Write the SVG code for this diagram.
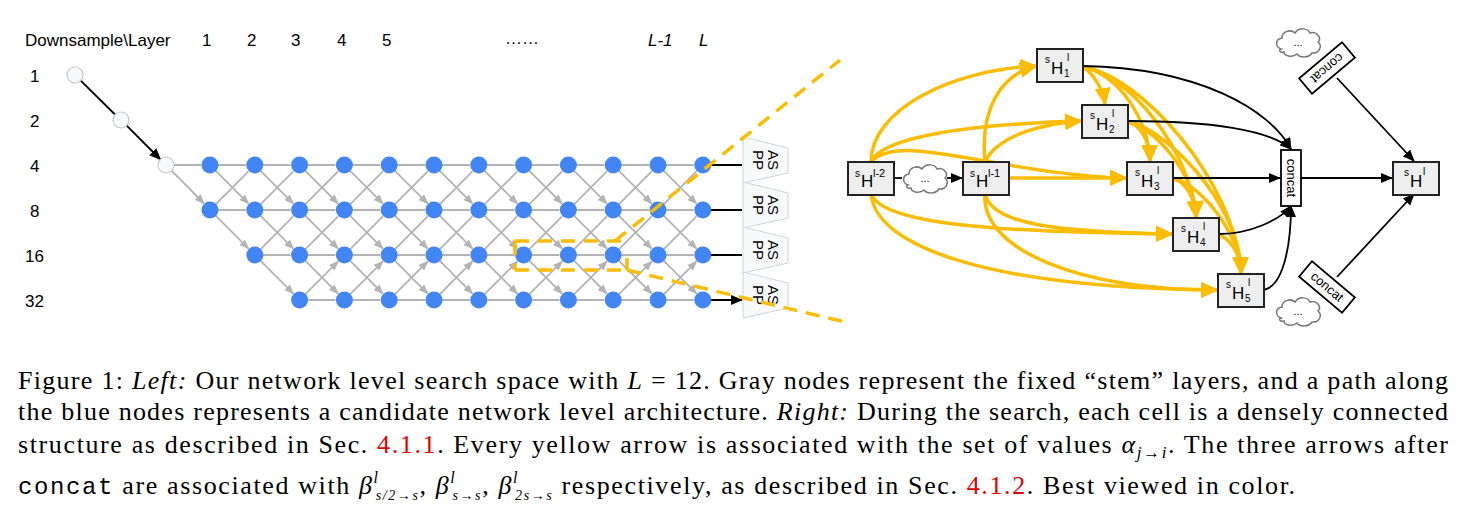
<svg xmlns="http://www.w3.org/2000/svg" xmlns:xlink="http://www.w3.org/1999/xlink" width="1462" height="524" viewBox="0 0 1462 524">
<style>
.lbl{font-family:"Liberation Sans",Arial,sans-serif;font-size:17px;fill:#000}
.ge{stroke:#b3b3b3;stroke-width:1.8;fill:none;marker-end:url(#ga)}
.bn{fill:#4285f4}
.sn{fill:#f8f9fa;stroke:#c8c8c8;stroke-width:1.2}
.bk{stroke:#000;stroke-width:1.8;fill:none;marker-end:url(#ba)}
.ye{stroke:#fbbc04;stroke-width:3.5;fill:none;marker-end:url(#ya)}
.box{fill:#eee;stroke:#222;stroke-width:2}
.cbox{fill:#fff;stroke:#000;stroke-width:1.8}
.t{font-family:"Liberation Sans",Arial,sans-serif;fill:#000}
.cl{fill:#fff;stroke:#777;stroke-width:1.5}
.dash{stroke:#fbbc04;stroke-width:3.5;fill:none;stroke-dasharray:14 9}
.cap{font-family:"Liberation Serif","Times New Roman",serif;font-size:26px;fill:#000}
.asp{fill:#f8f9fa;stroke:#d0d4da;stroke-width:1}
</style>
<defs>
<marker id="ga" markerUnits="userSpaceOnUse" markerWidth="10" markerHeight="8" refX="9" refY="4" orient="auto"><path d="M0,0 L10,4 L0,8 z" fill="#b3b3b3"/></marker>
<marker id="ba" markerUnits="userSpaceOnUse" markerWidth="12" markerHeight="10" refX="11" refY="5" orient="auto"><path d="M0,0 L12,5 L0,10 z" fill="#000"/></marker>
<marker id="ya" markerUnits="userSpaceOnUse" markerWidth="18" markerHeight="16" refX="16" refY="8" orient="auto"><path d="M0,0 L18,8 L0,16 z" fill="#fbbc04"/></marker>
<g id="r0"><path class="ge" d="M8 0L35.8 0M5.6 5.7L38.5 38.6"/></g>
<g id="r1"><path class="ge" d="M8 45L35.8 45M5.6 39.3L38.5 6.4M5.6 50.7L38.5 83.6"/></g>
<g id="r2"><path class="ge" d="M8 90L35.8 90M5.6 84.3L38.5 51.4M5.6 95.7L38.5 128.6"/></g>
<g id="r3"><path class="ge" d="M8 135L35.8 135M5.6 129.3L38.5 96.4"/></g>
<g id="colA"><use xlink:href="#r0"/><use xlink:href="#r1"/><use xlink:href="#r2"/><use xlink:href="#r3"/></g>
<g id="nA"><circle class="bn" cx="0" cy="0" r="8.5"/><circle class="bn" cx="0" cy="45" r="8.5"/><circle class="bn" cx="0" cy="90" r="8.5"/><circle class="bn" cx="0" cy="135" r="8.5"/></g>
<path id="cloud" class="cl" d="M6 22 C0 20 0 12 7 11 C7 4 16 2 20 6 C24 0 33 1 35 6 C42 4 47 11 43 15 C48 19 44 27 37 26 C34 31 25 31 22 27 C17 31 9 29 9 25 C5 26 3 23 6 22 z"/>
<polygon id="asp" class="asp" points="0,-28 45,-17 45,8 0,18"/>
<rect id="hb" class="box" x="0" y="0" width="46" height="33"/>
</defs>

<g id="left-labels">
<text class="lbl" x="25" y="46">Downsample\Layer</text>
<text class="lbl" x="202" y="46">1</text><text class="lbl" x="247" y="46">2</text><text class="lbl" x="291" y="46">3</text><text class="lbl" x="337" y="46">4</text><text class="lbl" x="382" y="46">5</text>
<text class="lbl" x="505" y="44">……</text>
<text class="lbl" x="648" y="46" font-style="italic">L-1</text><text class="lbl" x="699" y="46" font-style="italic">L</text>
<text class="lbl" x="30" y="82">1</text><text class="lbl" x="30" y="127">2</text><text class="lbl" x="30" y="172">4</text><text class="lbl" x="30" y="217">8</text><text class="lbl" x="25" y="262">16</text><text class="lbl" x="25" y="307">32</text>
</g>

<g id="grid-connectors">
<path class="bk" d="M80.7 80.6L115 114.5M126.7 125.6L160.5 159.5"/>
<path class="ge" d="M174 165L201 165M171.6 170.7L204 203.5"/>
<use xlink:href="#r0" x="210" y="165"/><use xlink:href="#r1" x="210" y="165"/>
<use xlink:href="#r0" x="254.8" y="165"/><use xlink:href="#r1" x="254.8" y="165"/><use xlink:href="#r2" x="254.8" y="165"/>
<use xlink:href="#colA" x="299.6" y="165"/><use xlink:href="#colA" x="344.4" y="165"/><use xlink:href="#colA" x="389.2" y="165"/>
<use xlink:href="#colA" x="434" y="165"/><use xlink:href="#colA" x="478.8" y="165"/><use xlink:href="#colA" x="523.6" y="165"/>
<use xlink:href="#colA" x="568.4" y="165"/><use xlink:href="#colA" x="613.2" y="165"/><use xlink:href="#colA" x="658" y="165"/>
<path class="bk" d="M711 165L742 165M711 210L742 210M711 255L742 255M711 300L742 300"/>
</g>

<g id="grid-nodes">
<circle class="sn" cx="75" cy="75" r="8"/><circle class="sn" cx="121" cy="120" r="8"/><circle class="sn" cx="166" cy="165" r="8"/>
<circle class="bn" cx="210" cy="165" r="8.5"/><circle class="bn" cx="210" cy="210" r="8.5"/>
<circle class="bn" cx="254.8" cy="165" r="8.5"/><circle class="bn" cx="254.8" cy="210" r="8.5"/><circle class="bn" cx="254.8" cy="255" r="8.5"/>
<use xlink:href="#nA" x="299.6" y="165"/><use xlink:href="#nA" x="344.4" y="165"/><use xlink:href="#nA" x="389.2" y="165"/>
<use xlink:href="#nA" x="434" y="165"/><use xlink:href="#nA" x="478.8" y="165"/><use xlink:href="#nA" x="523.6" y="165"/>
<use xlink:href="#nA" x="568.4" y="165"/><use xlink:href="#nA" x="613.2" y="165"/><use xlink:href="#nA" x="658" y="165"/>
<use xlink:href="#nA" x="702.8" y="165"/>
</g>

<g id="aspp">
<g id="aspp1"><use xlink:href="#asp" x="743" y="165"/><text class="t" font-size="15" transform="translate(765,160) rotate(90)" text-anchor="middle"><tspan x="0" y="-3">AS</tspan><tspan x="0" y="12">PP</tspan></text></g>
<g id="aspp2"><use xlink:href="#asp" x="743" y="210"/><text class="t" font-size="15" transform="translate(765,205) rotate(90)" text-anchor="middle"><tspan x="0" y="-3">AS</tspan><tspan x="0" y="12">PP</tspan></text></g>
<g id="aspp3"><use xlink:href="#asp" x="743" y="255"/><text class="t" font-size="15" transform="translate(765,250) rotate(90)" text-anchor="middle"><tspan x="0" y="-3">AS</tspan><tspan x="0" y="12">PP</tspan></text></g>
<g id="aspp4"><use xlink:href="#asp" x="743" y="300"/><text class="t" font-size="15" transform="translate(765,295) rotate(90)" text-anchor="middle"><tspan x="0" y="-3">AS</tspan><tspan x="0" y="12">PP</tspan></text></g>
</g>

<g id="zoom-lines">
<path class="dash" d="M515 241L627 241M515 270L627 270M515 241L515 270M627 258L627 270"/>
<path class="dash" d="M615 241L840 60M627 270L845 322"/>
</g>

<g id="cell-connectors">
<path class="ye" d="M871 162C871 110 950 70 1036 66"/>
<path class="ye" d="M871 162C880 140 950 125 1081 121"/>
<path class="ye" d="M871 162C900 130 1000 175 1126 178"/>
<path class="ye" d="M871 193C880 225 1000 232 1172 234"/>
<path class="ye" d="M871 193C875 250 1000 288 1217 290"/>
<path class="ye" d="M985 162C980 110 1000 75 1036 66"/>
<path class="ye" d="M985 162C995 140 1030 125 1081 121"/>
<path class="ye" d="M1008 178L1126 178"/>
<path class="ye" d="M985 193C990 225 1060 232 1172 234"/>
<path class="ye" d="M985 193C980 250 1080 290 1217 290"/>
<path class="ye" d="M1083 67C1095 75 1103 90 1105 104"/>
<path class="ye" d="M1083 67C1120 75 1148 120 1150 161"/>
<path class="ye" d="M1083 67C1130 75 1190 150 1196 217"/>
<path class="ye" d="M1083 67C1140 75 1235 180 1241 273"/>
<path class="ye" d="M1128 122C1140 125 1150 140 1150 161"/>
<path class="ye" d="M1128 122C1150 125 1195 170 1196 217"/>
<path class="ye" d="M1128 122C1160 125 1240 200 1241 273"/>
<path class="ye" d="M1173 179C1185 180 1196 200 1196 217"/>
<path class="ye" d="M1173 179C1195 180 1240 230 1241 273"/>
<path class="ye" d="M1219 235C1230 238 1241 255 1241 273"/>
<path class="bk" d="M1083 66C1200 68 1270 110 1291 149"/>
<path class="bk" d="M1128 121C1210 121 1270 130 1291 149"/>
<path class="bk" d="M1173 178L1280 178"/>
<path class="bk" d="M1219 234C1250 234 1280 220 1291 206"/>
<path class="bk" d="M1264 290C1285 285 1291 240 1291 206"/>
<path class="bk" d="M1301 178L1392 178"/>
<path class="bk" d="M1337 78L1414 161"/>
<path class="bk" d="M1337 277L1414 194"/>
<path stroke="#000" stroke-width="1.8" d="M894 178L902 178"/>
<path class="bk" d="M947 178L962 178"/>
</g>

<g id="n-hl2"><use xlink:href="#hb" x="848" y="162"/><text class="t" x="855" y="177" font-size="10">s</text><text class="t" x="861" y="187" font-size="17">H</text><text class="t" x="873" y="177" font-size="11">l-2</text></g>
<g id="cloud1"><use xlink:href="#cloud" x="902" y="163"/><text class="t" x="925" y="182" font-size="11" text-anchor="middle">...</text></g>
<g id="n-hl1"><use xlink:href="#hb" x="963" y="162"/><text class="t" x="970" y="177" font-size="10">s</text><text class="t" x="976" y="187" font-size="17">H</text><text class="t" x="988" y="177" font-size="11">l-1</text></g>
<g id="n-h1"><use xlink:href="#hb" x="1037" y="49"/><text class="t" x="1045" y="63" font-size="10">s</text><text class="t" x="1051" y="74" font-size="17">H</text><text class="t" x="1067" y="61" font-size="10" fill="#1a4f9e">l</text><text class="t" x="1064" y="77" font-size="10">1</text></g>
<g id="n-h2"><use xlink:href="#hb" x="1082" y="105"/><text class="t" x="1090" y="119" font-size="10">s</text><text class="t" x="1096" y="130" font-size="17">H</text><text class="t" x="1112" y="117" font-size="10" fill="#1a4f9e">l</text><text class="t" x="1109" y="133" font-size="10">2</text></g>
<g id="n-h3"><use xlink:href="#hb" x="1127" y="162"/><text class="t" x="1135" y="176" font-size="10">s</text><text class="t" x="1141" y="187" font-size="17">H</text><text class="t" x="1157" y="174" font-size="10" fill="#1a4f9e">l</text><text class="t" x="1154" y="190" font-size="10">3</text></g>
<g id="n-h4"><use xlink:href="#hb" x="1173" y="218"/><text class="t" x="1181" y="232" font-size="10">s</text><text class="t" x="1187" y="243" font-size="17">H</text><text class="t" x="1203" y="230" font-size="10" fill="#1a4f9e">l</text><text class="t" x="1200" y="246" font-size="10">4</text></g>
<g id="n-h5"><use xlink:href="#hb" x="1218" y="274"/><text class="t" x="1226" y="288" font-size="10">s</text><text class="t" x="1232" y="299" font-size="17">H</text><text class="t" x="1248" y="286" font-size="10" fill="#1a4f9e">l</text><text class="t" x="1245" y="302" font-size="10">5</text></g>
<g id="n-concat"><rect class="cbox" x="1281" y="150" width="20" height="56"/><text class="t" font-size="13" text-anchor="middle" transform="translate(1291,178) rotate(90)" y="4">concat</text></g>
<g id="n-hl"><use xlink:href="#hb" x="1393" y="162"/><text class="t" x="1404" y="176" font-size="10">s</text><text class="t" x="1410" y="187" font-size="17">H</text><text class="t" x="1423" y="175" font-size="10" fill="#1a4f9e">l</text></g>
<g id="n-concat-top"><g transform="translate(1327,68) rotate(140)"><rect class="cbox" x="-28" y="-10" width="56" height="20"/><text class="t" font-size="13" text-anchor="middle" y="4">concat</text></g></g>
<g id="n-concat-bot"><g transform="translate(1327,287) rotate(40)"><rect class="cbox" x="-28" y="-10" width="56" height="20"/><text class="t" font-size="13" text-anchor="middle" y="4">concat</text></g></g>
<g id="cloud2"><use xlink:href="#cloud" x="1275" y="27"/><text class="t" x="1298" y="46" font-size="11" text-anchor="middle">...</text></g>
<g id="cloud3"><use xlink:href="#cloud" x="1275" y="296"/><text class="t" x="1298" y="315" font-size="11" text-anchor="middle">...</text></g>

<g id="caption">
<text class="cap" x="18" y="389" textLength="1430" lengthAdjust="spacing">Figure 1: <tspan font-style="italic">Left:</tspan> Our network level search space with <tspan font-style="italic">L</tspan> = 12. Gray nodes represent the fixed “stem” layers, and a path along</text>
<text class="cap" x="18" y="420" textLength="1430" lengthAdjust="spacing">the blue nodes represents a candidate network level architecture. <tspan font-style="italic">Right:</tspan> During the search, each cell is a densely connected</text>
<text class="cap" x="18" y="453" textLength="1430" lengthAdjust="spacing">structure as described in Sec. <tspan fill="#e00000">4.1.1</tspan>. Every yellow arrow is associated with the set of values <tspan font-style="italic">α</tspan><tspan font-style="italic" font-size="17" dy="5">j→i</tspan><tspan dy="-5">. The three arrows after</tspan></text>
<text class="cap" x="18" y="494" textLength="1277" lengthAdjust="spacing"><tspan font-family="Liberation Mono,monospace" font-size="24">concat</tspan> are associated with <tspan font-style="italic">β</tspan><tspan font-style="italic" font-size="16" dy="-11">l</tspan><tspan font-style="italic" font-size="14" dx="-4" dy="17">s/2→s</tspan><tspan dy="-6">, </tspan><tspan font-style="italic">β</tspan><tspan font-style="italic" font-size="16" dy="-11">l</tspan><tspan font-style="italic" font-size="14" dx="-4" dy="17">s→s</tspan><tspan dy="-6">, </tspan><tspan font-style="italic">β</tspan><tspan font-style="italic" font-size="16" dy="-11">l</tspan><tspan font-style="italic" font-size="14" dx="-4" dy="17">2s→s</tspan><tspan dy="-6"> respectively, as described in Sec. </tspan><tspan fill="#e00000">4.1.2</tspan>. Best viewed in color.</text>
</g>
</svg>
